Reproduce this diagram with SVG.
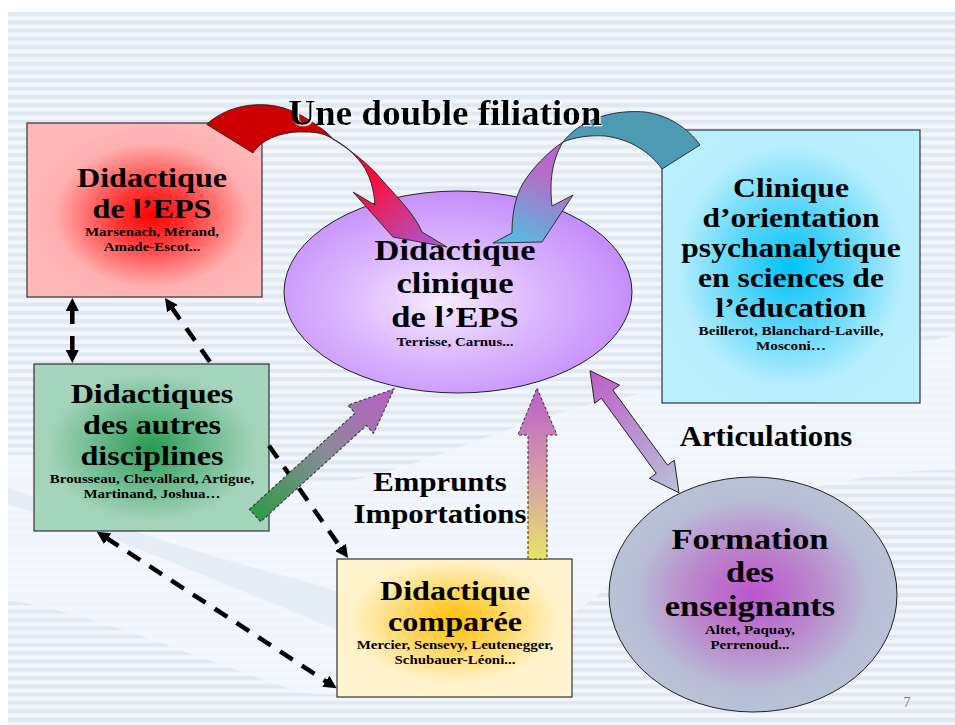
<svg xmlns="http://www.w3.org/2000/svg" width="955" height="725" viewBox="0 0 955 725">
<defs>
<style>
.t{font-family:"Liberation Serif","Times New Roman",serif;font-weight:bold;fill:#000;text-anchor:middle}
.big{font-size:28px}
.small{font-size:13px}
.box{stroke:#333;stroke-width:1.2}
.dash{fill:none;stroke:#000;stroke-width:4.5;stroke-dasharray:15,11}
.blk{stroke:#222;stroke-width:0.9}
.dotted{stroke:#333;stroke-width:1;stroke-dasharray:3,2}
</style>
<filter id="wsh" x="-5%" y="-20%" width="110%" height="140%">
<feDropShadow dx="1.3" dy="1.3" stdDeviation="0.2" flood-color="#ffffff" flood-opacity="1"/>
</filter>
<pattern id="stripes" x="0" y="12" width="20" height="8.3" patternUnits="userSpaceOnUse">
<rect width="20" height="8.3" fill="#f2f6fb"/>
<rect width="20" height="4" fill="#dfe8f3"/>
</pattern>
<radialGradient id="gRed" cx="0.53" cy="0.53" r="0.55">
<stop offset="0" stop-color="#ff0000"/><stop offset="0.3" stop-color="#ff3a3a"/><stop offset="0.75" stop-color="#ffb0b0"/><stop offset="1" stop-color="#ffb8b8"/>
</radialGradient>
<radialGradient id="gGreen" cx="0.5" cy="0.5" r="0.55">
<stop offset="0" stop-color="#2a9a52"/><stop offset="0.35" stop-color="#5fb583"/><stop offset="0.8" stop-color="#a3d3bb"/><stop offset="1" stop-color="#a6d5be"/>
</radialGradient>
<radialGradient id="gCyan" cx="0.5" cy="0.5" r="0.55">
<stop offset="0" stop-color="#00c4f8"/><stop offset="0.4" stop-color="#5ad6fb"/><stop offset="0.8" stop-color="#b8eefd"/><stop offset="1" stop-color="#baeffd"/>
</radialGradient>
<radialGradient id="gYellow" cx="0.5" cy="0.45" r="0.55">
<stop offset="0" stop-color="#ffbf00"/><stop offset="0.35" stop-color="#ffd45a"/><stop offset="0.8" stop-color="#fff2c8"/><stop offset="1" stop-color="#fff4d0"/>
</radialGradient>
<radialGradient id="gPurple" cx="0.45" cy="0.55" r="0.55">
<stop offset="0" stop-color="#f6ecff"/><stop offset="0.5" stop-color="#dcb8ff"/><stop offset="1" stop-color="#c58ffb"/>
</radialGradient>
<radialGradient id="gGray" cx="0.5" cy="0.5" r="0.5">
<stop offset="0" stop-color="#bb55cc"/><stop offset="0.45" stop-color="#bb88cc"/><stop offset="0.8" stop-color="#b8bcd6"/><stop offset="1" stop-color="#b8c2d6"/>
</radialGradient>
<linearGradient id="gRedArrow" gradientUnits="userSpaceOnUse" x1="335" y1="140" x2="425" y2="245">
<stop offset="0" stop-color="#ee0010"/><stop offset="0.35" stop-color="#ff0a30"/><stop offset="1" stop-color="#b052c6"/>
</linearGradient>
<linearGradient id="gTealArrow" gradientUnits="userSpaceOnUse" x1="560" y1="145" x2="515" y2="242">
<stop offset="0" stop-color="#bb62cc"/><stop offset="0.35" stop-color="#b070c8"/><stop offset="1" stop-color="#55bce0"/>
</linearGradient>
<linearGradient id="gDiag" gradientUnits="userSpaceOnUse" x1="0" y1="0" x2="188" y2="0">
<stop offset="0" stop-color="#2e9b48"/><stop offset="0.5" stop-color="#8a8a98"/><stop offset="1" stop-color="#bc5ec9"/>
</linearGradient>
<linearGradient id="gVert" gradientUnits="userSpaceOnUse" x1="0" y1="559" x2="0" y2="388">
<stop offset="0" stop-color="#e6e46a"/><stop offset="0.45" stop-color="#d8a2a6"/><stop offset="1" stop-color="#bb5fc8"/>
</linearGradient>
<linearGradient id="gArt" gradientUnits="userSpaceOnUse" x1="0" y1="0" x2="151" y2="0">
<stop offset="0" stop-color="#bc5ec9"/><stop offset="1" stop-color="#b9c3d9"/>
</linearGradient>
<marker id="ah" viewBox="0 0 13 13" refX="2" refY="6.5" markerWidth="13" markerHeight="13" markerUnits="userSpaceOnUse" orient="auto-start-reverse">
<path d="M0,0 L13,6.5 L0,13 Z" fill="#000"/>
</marker>
</defs>

<!-- background -->
<rect width="955" height="725" fill="#ffffff"/>
<rect x="8" y="12" width="947" height="713" fill="url(#stripes)"/>
<path d="M8,455 C120,452 230,468 330,485 C420,470 500,425 600,402 C700,380 800,372 955,335 L955,470 C870,470 790,490 700,525 C640,550 600,600 560,622 C480,665 380,705 300,692 C200,660 100,615 8,600 Z" fill="#f3f6fb" opacity="0.85"/>
<path d="M8,505 C90,525 200,575 290,610 C330,628 380,648 430,640 C390,610 345,592 300,580 C200,555 100,520 8,488 Z" fill="#dde7f2" opacity="0.6"/>
<path d="M610,560 C640,520 700,500 760,480 C720,520 680,560 640,610 Z" fill="#dde7f2" opacity="0.5"/>

<!-- nodes -->
<g id="node-didactique-eps">
<rect class="box" x="27" y="123" width="235" height="174" fill="url(#gRed)"/>
<g transform="matrix(1.15,0,0,1,-22.8,0)">
<text class="t big" x="152" y="187">Didactique</text>
<text class="t big" x="152" y="218">de l’EPS</text>
<text class="t small" x="152" y="236">Marsenach, Mérand,</text>
<text class="t small" x="152" y="251">Amade-Escot...</text>
</g>
</g>

<g id="node-didactique-clinique">
<ellipse cx="458" cy="292" rx="174" ry="101" fill="url(#gPurple)" stroke="#222" stroke-width="1"/>
<g transform="matrix(1.15,0,0,1,-68.25,0)">
<text class="t" style="font-size:30px" x="455" y="260">Didactique</text>
<text class="t" style="font-size:30px" x="455" y="293.4">clinique</text>
<text class="t" style="font-size:30px" x="455" y="326.8">de l’EPS</text>
<text class="t small" x="455" y="346.5">Terrisse, Carnus...</text>
</g>
</g>

<g id="node-clinique-psy">
<rect class="box" x="662" y="130" width="258" height="273" fill="url(#gCyan)"/>
<g transform="matrix(1.17,0,0,1,-134.47,0)">
<text class="t" style="font-size:27px" x="791" y="197.5">Clinique</text>
<text class="t" style="font-size:27px" x="791" y="227.5">d’orientation</text>
<text class="t" style="font-size:27px" x="791" y="257.5">psychanalytique</text>
<text class="t" style="font-size:27px" x="791" y="287.5">en sciences de</text>
<text class="t" style="font-size:27px" x="791" y="317.5">l’éducation</text>
<text class="t small" x="791" y="335.5">Beillerot, Blanchard-Laville,</text>
<text class="t small" x="791" y="350">Mosconi…</text>
</g>
</g>

<g id="node-autres-disciplines">
<rect class="box" x="34" y="364" width="235" height="167" fill="url(#gGreen)"/>
<g transform="matrix(1.15,0,0,1,-22.8,0)">
<text class="t big" x="152" y="403">Didactiques</text>
<text class="t big" x="152" y="434">des autres</text>
<text class="t big" x="152" y="465">disciplines</text>
<text class="t small" x="152" y="483">Brousseau, Chevallard, Artigue,</text>
<text class="t small" x="152" y="498">Martinand, Joshua…</text>
</g>
</g>

<g id="node-comparee">
<rect class="box" x="337" y="559" width="235" height="138" fill="url(#gYellow)"/>
<g transform="matrix(1.15,0,0,1,-68.25,0)">
<text class="t big" x="455" y="600">Didactique</text>
<text class="t big" x="455" y="631">comparée</text>
<text class="t small" x="455" y="649">Mercier, Sensevy, Leutenegger,</text>
<text class="t small" x="455" y="664">Schubauer-Léoni...</text>
</g>
</g>

<g id="node-formation">
<ellipse cx="753" cy="594.5" rx="144" ry="117.5" fill="url(#gGray)" stroke="#222" stroke-width="1"/>
<g transform="matrix(1.15,0,0,1,-112.5,0)">
<text class="t" style="font-size:30px" x="750" y="549">Formation</text>
<text class="t" style="font-size:30px" x="750" y="582.4">des</text>
<text class="t" style="font-size:30px" x="750" y="615.8">enseignants</text>
<text class="t small" x="750" y="634.5">Altet, Paquay,</text>
<text class="t small" x="750" y="649">Perrenoud...</text>
</g>
</g>

<!-- connectors -->
<g id="connectors">
<path class="dash" d="M72.3,309 L72.3,352" marker-start="url(#ah)" marker-end="url(#ah)" style="stroke-dasharray:15,12"/>
<path class="dash" d="M171.3,307 L211.5,364 M269,445.8 L341.7,549" marker-start="url(#ah)" marker-end="url(#ah)"/>
<path class="dash" d="M105.9,537.7 L327.5,682.3" marker-start="url(#ah)" marker-end="url(#ah)"/>

<g id="arrow-red">
<path class="blk" d="M206.7,124.3 C222,110 245,103 268,105 C290,107 305,117 318,126 C325,131 330,135 333,139 C325,134 318,132 305,132 C285,131 262,138 253,153 Z" fill="#cc0000"/>
<path class="blk" d="M333,139 C350,150 368,163 382,180 C398,198 415,215 422,232 L447,247 L393,237 L353,192 L375,205 C374,190 370,175 362,164 C353,152 343,144 333,139 Z" fill="url(#gRedArrow)"/>
</g>

<g id="arrow-teal">
<path class="blk" d="M700,145 C688,128 668,115 645,112 C620,110 595,115 575,130 C570,134 566,138 563,142 C575,137 590,135 605,136 C630,139 650,152 662,169 Z" fill="#4d9bb2"/>
<path class="blk" d="M563,142 C548,152 532,168 522,185 C514,200 512,218 512,233 L493,243 L542,242 L573,195 L552,206 C550,190 551,172 555,160 C557,153 560,147 563,142 Z" fill="url(#gTealArrow)"/>
</g>

<g id="arrow-emprunt-diag" transform="translate(255,515.5) rotate(-42.3)">
<polygon class="dotted" points="0,-8.4 143,-8.4 143,-19 188,0 143,19 143,8.4 0,8.4" fill="url(#gDiag)"/>
</g>

<polygon id="arrow-emprunt-vert" class="dotted" points="528,559 528,435 518,435 537,388 557,435 547,435 547,559" fill="url(#gVert)"/>

<g id="arrow-articulations" transform="translate(590,370.7) rotate(53.9)">
<polygon class="blk" points="0,0 29,-15.4 29,-7 122,-7 122,-15.4 151,0 122,15.4 122,7 29,7 29,15.4" fill="url(#gArt)"/>
</g>
</g>

<!-- labels -->
<g id="labels">
<g transform="matrix(1.03,0,0,1,-13.35,0)">
<text class="t" style="font-size:36px" x="445" y="125" filter="url(#wsh)">Une double filiation</text>
</g>
<g transform="matrix(1.06,0,0,1,-45.96,0)">
<text class="t" style="font-size:29px" x="766" y="446">Articulations</text>
</g>
<g transform="matrix(1.1,0,0,1,-44,0)">
<text class="t" style="font-size:28px" x="440" y="491">Emprunts</text>
<text class="t" style="font-size:28px" x="440" y="523">Importations</text>
</g>
<text x="907" y="707" style="font-family:'Liberation Serif',serif;font-size:14px;fill:#777;text-anchor:middle">7</text>
</g>
</svg>
